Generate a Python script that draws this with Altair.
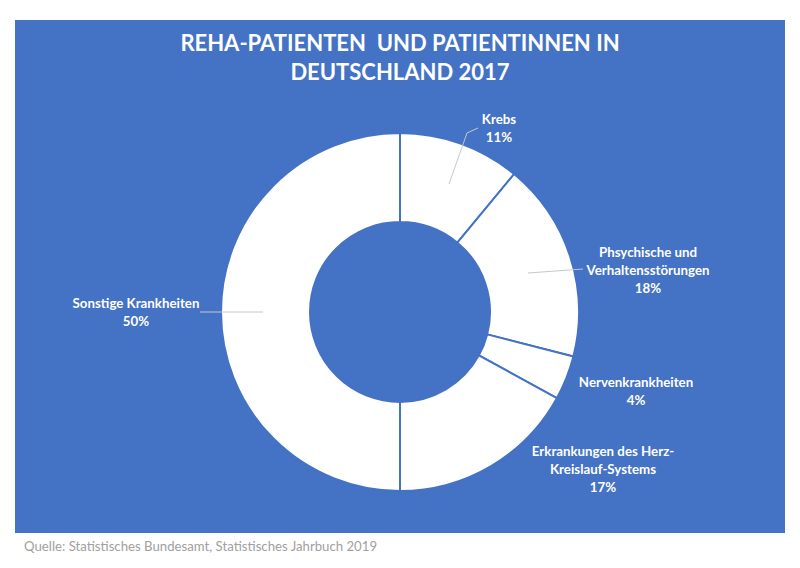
import altair as alt
import pandas as pd

# Reha patients in Germany 2017 by diagnosis group (share in %)
categories = [
    "Krebs",
    "Phsychische und Verhaltensstörungen",
    "Nervenkrankheiten",
    "Erkrankungen des Herz-Kreislauf-Systems",
    "Sonstige Krankheiten",
]
label_lines = [
    ["Krebs"],
    ["Phsychische und", "Verhaltensstörungen"],
    ["Nervenkrankheiten"],
    ["Erkrankungen des Herz-", "Kreislauf-Systems"],
    ["Sonstige Krankheiten"],
]
shares = [11, 18, 4, 17, 50]

title_lines = ["REHA-PATIENTEN\u00a0 UND PATIENTINNEN IN", "DEUTSCHLAND 2017"]
source_note = "Quelle: Statistisches Bundesamt, Statistisches Jahrbuch 2019"

BLUE = "#4472C4"
FONT = "Lato"
CX, CY = 400, 312

# label placement (centre x, top y) for each category
label_pos = [(499, 113), (648, 246), (636, 376), (603, 445), (136, 297)]
# leader lines (x1, y1, x2, y2)
leaders = [
    (449, 184, 467, 133),
    (467, 133, 478, 128),
    (528, 273, 583, 269),
    (200, 312, 263, 312),
]

slices = pd.DataFrame({"category": categories, "share": shares, "idx": range(len(shares))})

labels = pd.DataFrame({
    "text": ["\n".join(lines + [f"{s}%"]) for lines, s in zip(label_lines, shares)],
    "lx": [p[0] for p in label_pos],
    "ly": [p[1] for p in label_pos],
})

lead_df = pd.DataFrame(leaders, columns=["x1", "y1", "x2", "y2"])
one = pd.DataFrame({"k": [0]})

panel = alt.Chart(one).mark_rect(color=BLUE).encode(
    x=alt.value(15), x2=alt.value(785), y=alt.value(20), y2=alt.value(533)
)

donut = alt.Chart(slices).mark_arc(
    innerRadius=90, outerRadius=179, fill="white", stroke=BLUE, strokeWidth=2
).encode(
    theta=alt.Theta("share:Q", stack=True),
    order=alt.Order("idx:Q"),
    x=alt.value(CX),
    y=alt.value(CY),
)

lead = alt.Chart(lead_df).mark_rule(color="#c4c8d0", strokeWidth=1).encode(
    x=alt.X("x1:Q", scale=None),
    y=alt.Y("y1:Q", scale=None),
    x2="x2:Q",
    y2="y2:Q",
)

text = alt.Chart(labels).mark_text(
    font=FONT, fontSize=13.3, fontWeight="bold", color="white",
    align="center", baseline="top", lineBreak="\n", lineHeight=18,
).encode(
    x=alt.X("lx:Q", scale=None),
    y=alt.Y("ly:Q", scale=None),
    text="text:N",
)

title = alt.Chart(one).mark_text(
    font=FONT, fontSize=22, fontWeight="bold", color="white",
    align="center", baseline="top", lineBreak="\n", lineHeight=29,
    text="\n".join(title_lines),
).encode(x=alt.value(400), y=alt.value(34))

source = alt.Chart(one).mark_text(
    font=FONT, fontSize=13.2, color="#a0a0a0", align="left", baseline="alphabetic",
    text=source_note,
).encode(x=alt.value(24), y=alt.value(551))

chart = alt.layer(panel, donut, lead, text, title, source).properties(
    width=800, height=568, padding=0,
    autosize=alt.AutoSizeParams(type="none"),
    background="white",
).configure_view(stroke=None)

chart.save("out.html", embed_options={"renderer": "svg", "actions": False})
